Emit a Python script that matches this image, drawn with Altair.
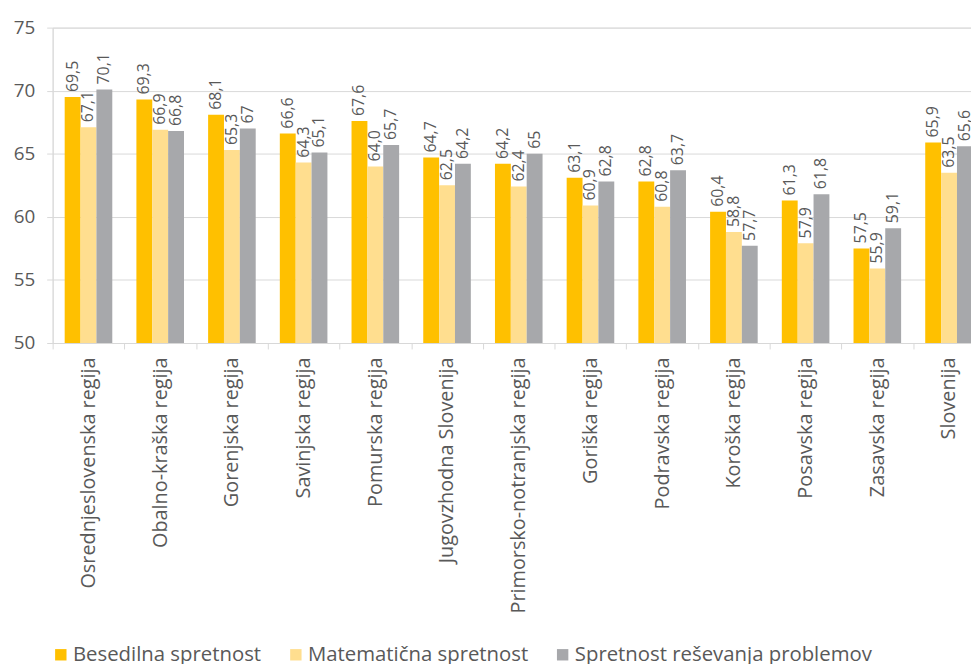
import altair as alt
import pandas as pd

categories = [
    "Osrednjeslovenska regija", "Obalno-kraška regija", "Gorenjska regija",
    "Savinjska regija", "Pomurska regija", "Jugovzhodna Slovenija",
    "Primorsko-notranjska regija", "Goriška regija", "Podravska regija",
    "Koroška regija", "Posavska regija", "Zasavska regija", "Slovenija",
]
series = ["Besedilna spretnost", "Matematična spretnost", "Spretnost reševanja problemov"]
colors = ["#FFC000", "#FFDE8F", "#A7A8AB"]

besedilna = [69.5, 69.3, 68.1, 66.6, 67.6, 64.7, 64.2, 63.1, 62.8, 60.4, 61.3, 57.5, 65.9]
matematicna = [67.1, 66.9, 65.3, 64.3, 64.0, 62.5, 62.4, 60.9, 60.8, 58.8, 57.9, 55.9, 63.5]
problemi = [70.1, 66.8, 67.0, 65.1, 65.7, 64.2, 65.0, 62.8, 63.7, 57.7, 61.8, 59.1, 65.6]

besedilna_lbl = ["69,5", "69,3", "68,1", "66,6", "67,6", "64,7", "64,2", "63,1", "62,8", "60,4", "61,3", "57,5", "65,9"]
matematicna_lbl = ["67,1", "66,9", "65,3", "64,3", "64,0", "62,5", "62,4", "60,9", "60,8", "58,8", "57,9", "55,9", "63,5"]
problemi_lbl = ["70,1", "66,8", "67", "65,1", "65,7", "64,2", "65", "62,8", "63,7", "57,7", "61,8", "59,1", "65,6"]

y_ticks = [50, 55, 60, 65, 70, 75]

rows = []
for s, vals, labs in zip(series, [besedilna, matematicna, problemi],
                         [besedilna_lbl, matematicna_lbl, problemi_lbl]):
    for c, v, l in zip(categories, vals, labs):
        rows.append({"regija": c, "serija": s, "vrednost": v, "oznaka": l})
df = pd.DataFrame(rows)

FONT = "Open Sans"
TXT = "#595959"
LINE = "#D9D9D9"

x_enc = alt.X(
    "regija:N", sort=categories,
    scale=alt.Scale(range=[0, 940], paddingInner=0, paddingOuter=0),
    axis=alt.Axis(title=None, labelAngle=-90, tickBand="extent", grid=False,
                  domainColor=LINE, tickColor=LINE, tickSize=6,
                  labelFontSize=20, labelColor=TXT, labelFont=FONT,
                  labelPadding=8, labelLimit=400),
)
xoff_enc = alt.XOffset("serija:N", sort=series,
                       scale=alt.Scale(paddingInner=0, paddingOuter=0.76))
y_enc = alt.Y(
    "vrednost:Q",
    scale=alt.Scale(domain=[50, 75], zero=False, nice=False),
    axis=alt.Axis(title=None, values=y_ticks, grid=True, gridColor=LINE,
                  domainColor=LINE, tickColor=LINE, tickSize=6,
                  labelFontSize=19, labelColor=TXT, labelFont=FONT,
                  labelPadding=12),
)
color_enc = alt.Color(
    "serija:N", sort=series,
    scale=alt.Scale(domain=series, range=colors),
    legend=alt.Legend(orient="none", legendX=-2, legendY=622, direction="horizontal",
                      title=None, symbolType="square", symbolSize=132,
                      symbolStrokeWidth=0, labelFontSize=20.5, labelColor=TXT,
                      labelFont=FONT, labelOffset=2, columnPadding=24,
                      labelLimit=500, padding=0),
)

bars = alt.Chart(df).mark_bar(clip=True).encode(
    x=x_enc, xOffset=xoff_enc, y=y_enc, color=color_enc
)
texts = alt.Chart(df).mark_text(
    clip=True, angle=270, align="left", baseline="middle", dx=5,
    fontSize=16, font=FONT, color=TXT,
).encode(x=x_enc, xOffset=xoff_enc, y=y_enc, text="oznaka:N")

chart = (bars + texts).properties(
    width=926, height=318,
    autosize=alt.AutoSizeParams(type="none"),
    padding={"left": 45, "top": 17, "right": 0, "bottom": 335},
).configure_view(stroke=None).configure(font=FONT)

chart.save("out.html", embed_options={"renderer": "svg", "actions": False})
